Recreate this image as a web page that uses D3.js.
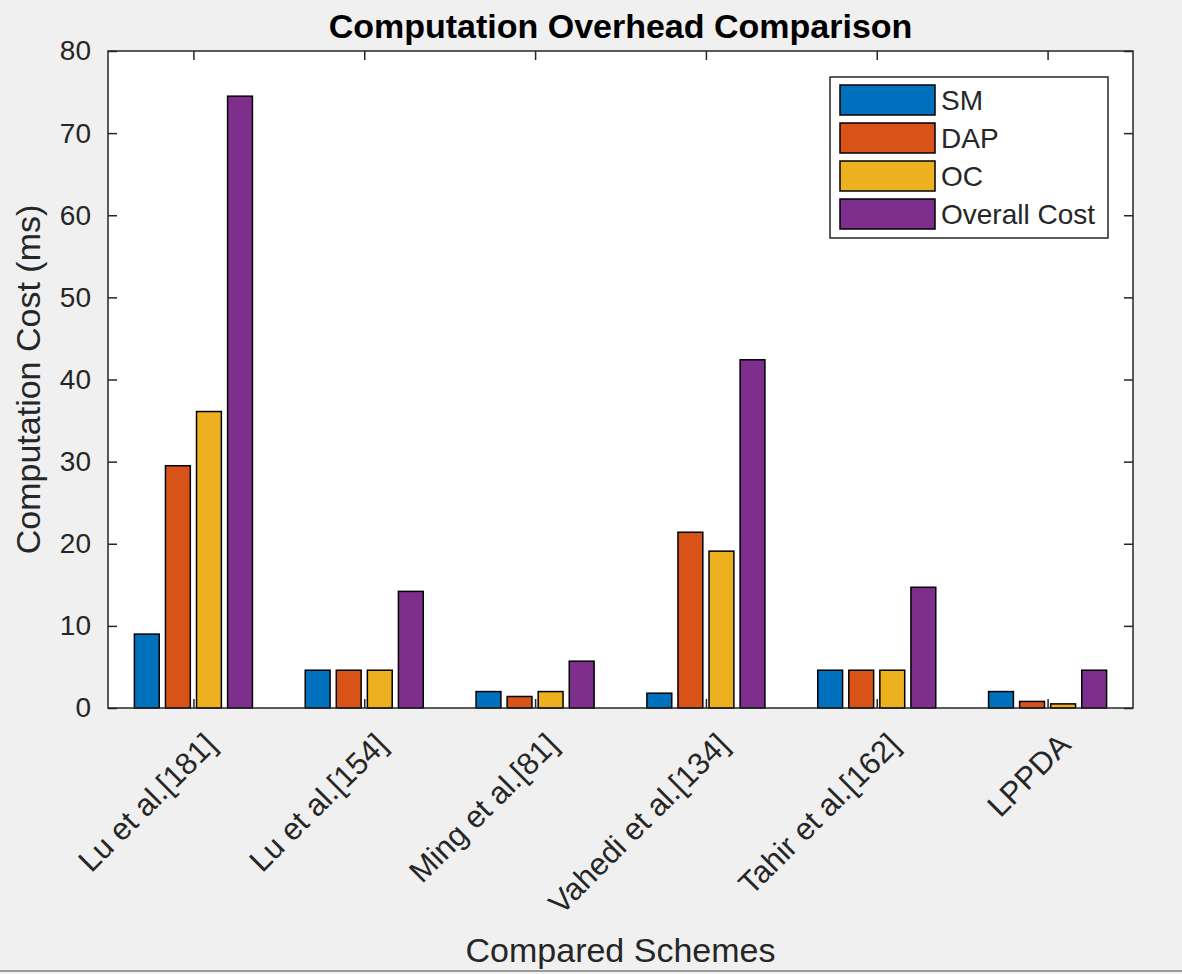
<!DOCTYPE html>
<html>
<head>
<meta charset="utf-8">
<script src="https://cdn.jsdelivr.net/npm/d3@7"></script>
<style>
    body { margin: 0; background: #f0f0f0; }
    text { font-family: "Liberation Sans", Arial, sans-serif; }
</style>
</head>
<body>
<div id="chart"></div>
<script>
// schemes on the x axis
const schemes = ["Lu et al.[181]", "Lu et al.[154]", "Ming et al.[81]", "Vahedi et al.[134]", "Tahir et al.[162]", "LPPDA"];
const seriesNames = ["SM", "DAP", "OC", "Overall Cost"];
const smValues = [9.0, 4.6, 2.0, 1.8, 4.6, 2.0];
const dapValues = [29.5, 4.6, 1.4, 21.4, 4.6, 0.8];
const ocValues = [36.1, 4.6, 2.0, 19.1, 4.6, 0.5];
const overallValues = [74.5, 14.2, 5.7, 42.4, 14.7, 4.6];
const yTicks = [0, 10, 20, 30, 40, 50, 60, 70, 80];
const barColors = ["#0072BD", "#D95319", "#EDB120", "#7E2F8E"];

function renderChart() {
    const W = 1182, H = 974;
    const margin = {top: 51, right: 49, bottom: 266, left: 108},
        width = W - margin.left - margin.right,
        height = H - margin.top - margin.bottom;
    const axisColor = "#262626";

    const series = [smValues, dapValues, ocValues, overallValues];

    let svg0 = d3.select("#chart").append("svg")
        .attr("width", W)
        .attr("height", H)
        .style("display", "block");

    svg0.append("rect")
        .attr("width", W).attr("height", H)
        .attr("fill", "#f0f0f0");

    let svg = svg0.append("g")
        .attr("transform", "translate(" + margin.left + "," + margin.top + ")");

    svg.append("rect")
        .attr("width", width).attr("height", height)
        .attr("fill", "#ffffff");

    // matlab style: xlim [0.5, n+0.5]
    const x = d3.scaleLinear()
        .domain([0.5, schemes.length + 0.5])
        .range([0, width]);

    const y = d3.scaleLinear()
        .domain([0, 80])
        .range([height, 0]);

    const groupWidth = Math.min(0.8, series.length / (series.length + 1.5));
    const step = groupWidth / series.length;
    const barW = step * 0.8;

    series.forEach(function (vals, s) {
        svg.append("g")
            .selectAll("rect")
            .data(vals)
            .enter()
            .append("rect")
            .attr("x", function (d, i) {
                const c = (i + 1) - groupWidth / 2 + step * (s + 0.5);
                return x(c - barW / 2);
            })
            .attr("y", function (d) { return y(d); })
            .attr("width", x(barW) - x(0))
            .attr("height", function (d) { return y(0) - y(d); })
            .attr("fill", barColors[s])
            .attr("stroke", "#000")
            .attr("stroke-width", 1.5);
    });

    const idx = schemes.map(function (d, i) { return i + 1; });

    // axes with inward ticks on all sides
    const tickLen = 9;
    svg.append("g")
        .attr("transform", "translate(0," + height + ")")
        .call(d3.axisBottom(x).tickValues(idx).tickSizeInner(-tickLen).tickSizeOuter(0).tickFormat(""))
        .call(g => g.select(".domain").remove());
    svg.append("g")
        .call(d3.axisTop(x).tickValues(idx).tickSizeInner(-tickLen).tickSizeOuter(0).tickFormat(""))
        .call(g => g.select(".domain").remove());
    svg.append("g")
        .call(d3.axisLeft(y).tickValues(yTicks).tickSizeInner(-tickLen).tickSizeOuter(0).tickPadding(17))
        .call(g => g.select(".domain").remove())
        .call(g => g.selectAll("text").attr("font-size", 28).attr("fill", axisColor)
            .style("font-family", "'Liberation Sans', Arial, sans-serif"));
    svg.append("g")
        .attr("transform", "translate(" + width + ",0)")
        .call(d3.axisRight(y).tickValues(yTicks).tickSizeInner(-tickLen).tickSizeOuter(0).tickFormat(""))
        .call(g => g.select(".domain").remove());

    svg.selectAll(".tick line").attr("stroke", axisColor).attr("stroke-width", 1.5);

    svg.append("rect")
        .attr("width", width).attr("height", height)
        .attr("fill", "none")
        .attr("stroke", axisColor)
        .attr("stroke-width", 1.5);

    // rotated category labels
    svg.append("g")
        .selectAll("text")
        .data(schemes)
        .enter()
        .append("text")
        .attr("transform", function (d, i) {
            return "translate(" + (x(i + 1) + 17) + "," + (height + 31) + ") rotate(-45)";
        })
        .attr("text-anchor", "end")
        .attr("dy", "0.35em")
        .attr("font-size", 31)
        .attr("fill", axisColor)
        .text(function (d) { return d; });

    // titles
    svg0.append("text")
        .attr("x", margin.left + width / 2)
        .attr("y", 38)
        .attr("text-anchor", "middle")
        .attr("font-size", 34)
        .attr("font-weight", "bold")
        .attr("fill", "#000")
        .text("Computation Overhead Comparison");

    svg0.append("text")
        .attr("x", margin.left + width / 2)
        .attr("y", 962)
        .attr("text-anchor", "middle")
        .attr("font-size", 34)
        .attr("fill", axisColor)
        .text("Compared Schemes");

    svg0.append("text")
        .attr("transform", "translate(40," + (margin.top + height / 2) + ") rotate(-90)")
        .attr("text-anchor", "middle")
        .attr("font-size", 34)
        .attr("fill", axisColor)
        .text("Computation Cost (ms)");

    renderLegend(svg0);

    // window edge at the bottom
    svg0.append("line")
        .attr("x1", 0).attr("x2", W)
        .attr("y1", H - 3).attr("y2", H - 3)
        .attr("stroke", "#9a9a9a")
        .attr("stroke-width", 2);
}

function renderLegend(svg) {
    const lg = svg.append("g").attr("transform", "translate(830,77)");
    lg.append("rect")
        .attr("width", 278).attr("height", 161)
        .attr("fill", "#ffffff")
        .attr("stroke", "#262626")
        .attr("stroke-width", 1.5);

    const rowH = 38;
    const rows = lg.selectAll("g.row")
        .data(seriesNames)
        .enter()
        .append("g")
        .attr("class", "row")
        .attr("transform", function (d, i) { return "translate(0," + (8 + i * rowH) + ")"; });

    rows.append("rect")
        .attr("x", 10).attr("y", 0)
        .attr("width", 95).attr("height", 30)
        .attr("fill", function (d, i) { return barColors[i]; })
        .attr("stroke", "#000")
        .attr("stroke-width", 1.5);

    rows.append("text")
        .attr("x", 111).attr("y", 15)
        .attr("dy", "0.35em")
        .attr("font-size", 28)
        .attr("fill", "#262626")
        .text(function (d) { return d; });
}

renderChart();
</script>
</body>
</html>
